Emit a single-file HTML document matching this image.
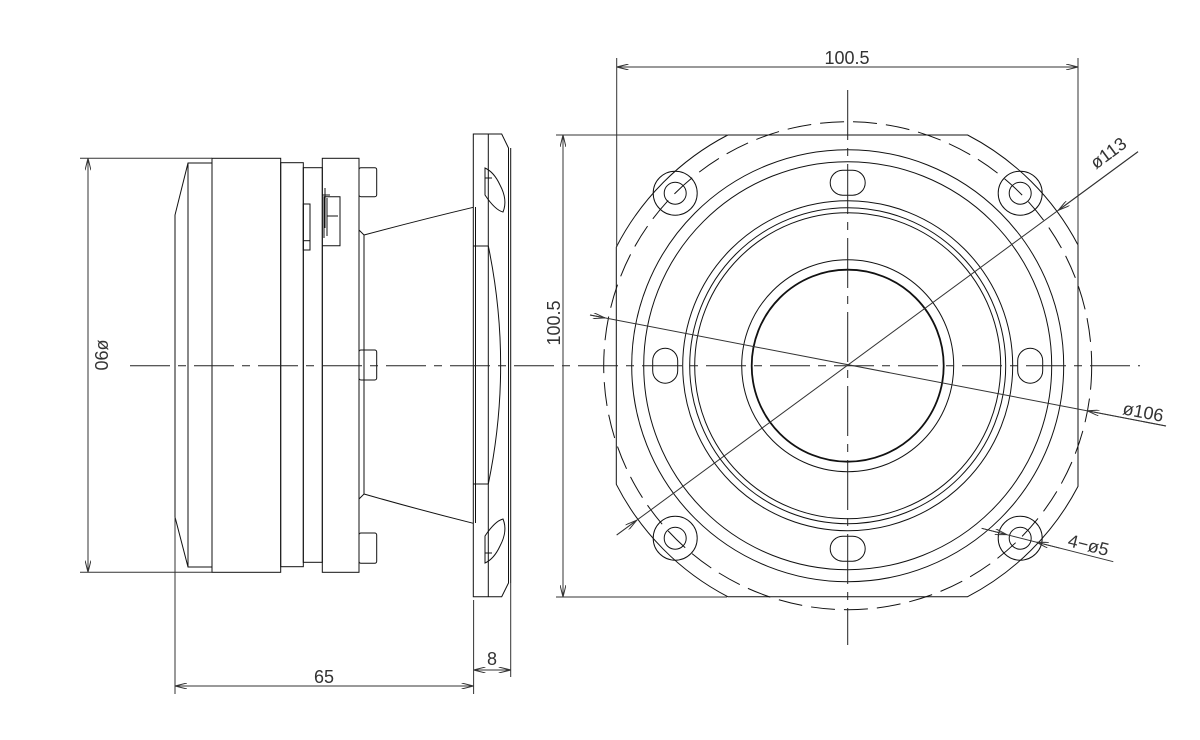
<!DOCTYPE html>
<html><head><meta charset="utf-8"><style>
html,body{margin:0;padding:0;background:#fff;}
svg{display:block;}
text{font-family:"Liberation Sans",sans-serif;font-size:18px;fill:#333;}
</style></head><body>
<svg width="1200" height="740" viewBox="0 0 1200 740" xmlns="http://www.w3.org/2000/svg">
<defs>
<marker id="a" viewBox="0 0 12 6" refX="12" refY="3" markerWidth="12" markerHeight="6" orient="auto-start-reverse" markerUnits="userSpaceOnUse"><path d="M0,0 L12,3 L0,6" fill="none" stroke="#333" stroke-width="1"/></marker>
</defs>
<rect width="1200" height="740" fill="#fff"/>
<g fill="none" stroke="#111" stroke-width="1">
<path d="M188,163 L212,163 L212,567 L188,567 L175,517 L175,215 Z"/>
<line x1="188" y1="163" x2="188" y2="567"/>
<rect x="212" y="158.3" width="68.7" height="414"/>
<rect x="280.7" y="162.7" width="22.6" height="404"/>
<rect x="303.3" y="167.7" width="19" height="394.6"/>
<rect x="303.3" y="204" width="6.7" height="46"/>
<line x1="303.3" y1="240.7" x2="310" y2="240.7"/>
<rect x="322.3" y="158.3" width="36.7" height="414"/>
<path d="M322.3,245.7 L340,245.7 L340,196.7 L324,196.7 L324,238 M327,198 L327,236 M327,216 L338,216 M325,188 L325,228 M322,195 L330,195"/>
<rect x="359" y="167.7" width="17.7" height="29" rx="2"/>
<rect x="359" y="350" width="17.7" height="30" rx="2"/>
<rect x="359" y="533" width="17.7" height="30.3" rx="2"/>
<path d="M359,230 L364,235 Q420,220 473.3,207.3"/>
<path d="M359,499 L364,494 Q420,510 473.3,523.3"/>
<line x1="364" y1="235" x2="364" y2="494"/>
<path d="M473.3,134 L501.7,134 L508.5,148 L508.5,583 L501.7,596.7 L473.3,596.7 Z"/>
<line x1="510.7" y1="148" x2="510.7" y2="583"/>
<line x1="488.3" y1="134" x2="488.3" y2="596.7"/>
<line x1="475.5" y1="207" x2="475.5" y2="523"/>
<path d="M488.3,246 Q513,365 488.3,484"/>
<line x1="473.3" y1="246" x2="488.3" y2="246"/>
<line x1="473.3" y1="484" x2="488.3" y2="484"/>
<path d="M485,168 L485,195 Q495,210 503,212 Q508,200 500,185 Q494,172 485,168 Z"/>
<line x1="485" y1="178" x2="492" y2="178"/>
<path d="M485,563 L485,536 Q495,521 503,519 Q508,531 500,546 Q494,559 485,563 Z"/>
<line x1="485" y1="553" x2="492" y2="553"/>
<path d="M727.8,135 L967.6,135 A260,260 0 0 1 1078,245 L1078,486.4 A260,260 0 0 1 967.6,596.7 L727.8,596.7 A260,260 0 0 1 616.3,484.3 L616.3,247.1 A260,260 0 0 1 727.8,135 Z"/>
<circle cx="847.7" cy="365.7" r="244" stroke-dasharray="24,9"/>
<circle cx="847.7" cy="365.7" r="216"/>
<circle cx="847.7" cy="365.7" r="204"/>
<circle cx="847.7" cy="365.7" r="165"/>
<circle cx="847.7" cy="365.7" r="158"/>
<circle cx="847.7" cy="365.7" r="153"/>
<circle cx="847.7" cy="365.7" r="106"/>
<circle cx="847.7" cy="365.7" r="96" stroke-width="1.8"/>
<g>
<circle cx="675.2" cy="193.2" r="11"/><circle cx="675.2" cy="193.2" r="22"/>
<circle cx="1020.2" cy="193.2" r="11"/><circle cx="1020.2" cy="193.2" r="22"/>
<circle cx="675.2" cy="538.2" r="11"/><circle cx="675.2" cy="538.2" r="22"/>
<circle cx="1020.2" cy="538.2" r="11"/><circle cx="1020.2" cy="538.2" r="22"/>
</g>
<rect x="830.2" y="170.2" width="35" height="25" rx="12.5"/>
<rect x="830.2" y="536.2" width="35" height="25" rx="12.5"/>
<rect x="652.7" y="348.2" width="25" height="35" rx="12.5"/>
<rect x="1017.7" y="348.2" width="25" height="35" rx="12.5"/>
</g>
<g stroke="#222" stroke-width="1" fill="none">
<line x1="130" y1="365.7" x2="1140" y2="365.7" stroke-dasharray="40,8,8,8"/>
<line x1="847.7" y1="90" x2="847.7" y2="645" stroke-dasharray="50,8,8,8"/>
</g>
<g stroke="#333" stroke-width="1" fill="none">
<line x1="616.7" y1="58" x2="616.7" y2="247"/>
<line x1="1078" y1="58" x2="1078" y2="245"/>
<line x1="616.7" y1="67" x2="1078" y2="67" marker-start="url(#a)" marker-end="url(#a)"/>
<line x1="556" y1="135" x2="727" y2="135"/>
<line x1="556" y1="597" x2="727" y2="597"/>
<line x1="563" y1="135" x2="563" y2="597" marker-start="url(#a)" marker-end="url(#a)"/>
<line x1="80" y1="158.3" x2="212" y2="158.3"/>
<line x1="80" y1="572.3" x2="212" y2="572.3"/>
<line x1="88" y1="158.3" x2="88" y2="572.3" marker-start="url(#a)" marker-end="url(#a)"/>
<line x1="175" y1="517" x2="175" y2="694"/>
<line x1="473.6" y1="600" x2="473.6" y2="694"/>
<line x1="510.7" y1="583" x2="510.7" y2="677"/>
<line x1="175" y1="686" x2="473.6" y2="686" marker-start="url(#a)" marker-end="url(#a)"/>
<line x1="473.6" y1="670" x2="510.7" y2="670" marker-start="url(#a)" marker-end="url(#a)"/>
<line x1="616.7" y1="535" x2="1138" y2="151.7"/>
<line x1="616.7" y1="535" x2="636.7" y2="520.3" marker-end="url(#a)"/>
<line x1="1138" y1="151.7" x2="1058.3" y2="210.3" marker-end="url(#a)"/>
<line x1="590" y1="315" x2="1166" y2="426"/>
<line x1="590" y1="315" x2="605" y2="317.9" marker-end="url(#a)"/>
<line x1="1166" y1="426" x2="1087.3" y2="410.8" marker-end="url(#a)"/>
<line x1="981.7" y1="528.3" x2="1113.3" y2="561.7"/>
<line x1="981.7" y1="528.3" x2="1006.7" y2="534.6" marker-end="url(#a)"/>
<line x1="1060" y1="548.2" x2="1036.7" y2="542.3" marker-end="url(#a)"/>
</g>
<g>
<text x="847" y="64" text-anchor="middle">100.5</text>
<text transform="translate(560,323) rotate(-90)" text-anchor="middle">100.5</text>
<text transform="translate(108,355) rotate(-90)" text-anchor="middle">06ø</text>
<text x="324" y="683" text-anchor="middle">65</text>
<text x="492" y="665" text-anchor="middle">8</text>
<text transform="translate(1112,158) rotate(-36.5)" text-anchor="middle">ø113</text>
<text transform="translate(1142,418) rotate(10.8)" text-anchor="middle">ø106</text>
<text transform="translate(1087,551) rotate(14)" text-anchor="middle">4−ø5</text>
</g>
</svg>
</body></html>
